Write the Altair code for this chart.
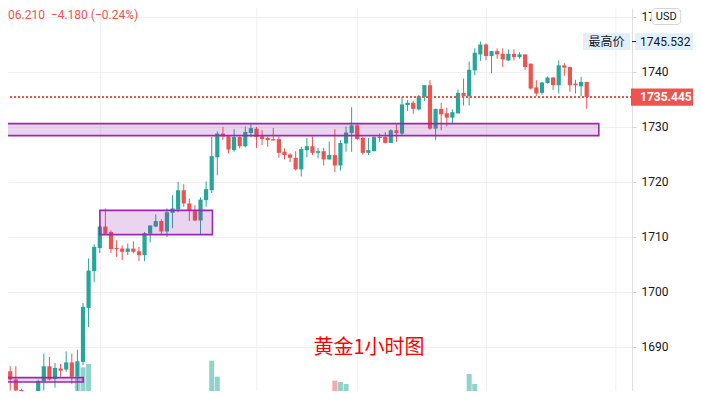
import altair as alt
import pandas as pd
import numpy as np

# ---- candle data (1h gold), index 0..104 ----
opens = [1683.4,1685.6,1684.1,1682.2,1679.8,1680.6,1679.2,1683.8,1686.5,1684.2,
         1686.1,1685.9,1687.2,1684.6,1687.3,1697.1,1703.8,1708.0,1711.9,1710.9,
         1708.0,1707.9,1707.3,1707.9,1707.4,1706.7,1710.6,1711.9,1712.9,1711.0,
         1714.4,1715.0,1718.5,1716.1,1714.7,1713.0,1716.7,1718.5,1724.5,1728.8,
         1728.3,1725.8,1728.2,1726.5,1728.9,1729.7,1728.3,1728.0,1727.8,1727.8,
         1725.5,1725.0,1724.4,1722.3,1725.8,1726.5,1725.3,1725.6,1724.1,1724.9,
         1723.0,1727.0,1728.9,1730.3,1728.0,1725.3,1725.6,1728.0,1728.2,1727.1,
         1729.4,1728.8,1734.0,1734.4,1733.2,1735.5,1737.6,1729.7,1733.3,1732.5,
         1731.7,1732.5,1736.2,1735.6,1740.3,1743.2,1745.0,1742.9,1743.8,1743.3,
         1742.1,1743.3,1742.7,1743.2,1741.5,1737.2,1736.2,1738.0,1739.0,1737.6,
         1741.2,1740.9,1737.9,1737.4,1738.2]
highs = [1686.0,1686.5,1686.5,1682.4,1680.9,1681.0,1684.1,1688.8,1688.2,1687.1,
         1686.9,1689.2,1688.8,1689.5,1698.0,1706.1,1708.7,1712.1,1715.2,1711.2,
         1709.4,1708.5,1708.8,1709.2,1708.2,1710.9,1712.1,1714.1,1713.2,1715.2,
         1717.6,1720.0,1719.6,1717.0,1715.8,1717.2,1720.1,1728.2,1729.2,1730.0,
         1728.5,1729.6,1728.3,1730.1,1730.6,1730.0,1729.4,1728.3,1729.8,1728.3,
         1726.1,1725.2,1725.6,1726.4,1728.0,1728.3,1726.2,1726.2,1727.4,1729.6,
         1727.6,1730.1,1733.6,1730.5,1728.3,1728.0,1728.3,1728.8,1729.1,1729.6,
         1730.5,1735.5,1734.9,1734.7,1735.8,1737.6,1738.5,1733.3,1734.4,1733.5,
         1733.2,1736.8,1738.8,1741.9,1744.3,1745.532,1745.2,1743.8,1744.3,1744.3,
         1744.1,1744.1,1743.6,1743.2,1741.6,1738.5,1738.2,1739.2,1739.1,1742.1,
         1741.6,1741.0,1738.6,1739.1,1738.2]
lows = [1683.0,1682.1,1681.6,1679.3,1679.3,1678.6,1678.8,1682.1,1683.9,1682.6,
        1684.6,1685.5,1683.3,1682.1,1686.7,1693.6,1701.8,1707.1,1710.4,1707.1,
        1706.4,1705.8,1706.7,1707.0,1705.6,1705.6,1709.0,1711.8,1710.5,1710.0,
        1711.6,1714.5,1715.5,1712.9,1712.9,1710.4,1715.5,1718.0,1721.2,1727.6,
        1725.2,1725.5,1726.1,1726.3,1728.1,1726.2,1726.7,1726.4,1727.6,1724.4,
        1724.1,1723.6,1722.1,1721.0,1724.5,1724.9,1724.3,1723.0,1724.1,1721.8,
        1722.1,1725.5,1725.5,1727.6,1725.0,1724.9,1725.6,1727.3,1727.0,1727.1,
        1727.3,1728.5,1732.9,1732.4,1733.0,1734.7,1729.5,1727.6,1729.4,1730.1,
        1730.6,1732.4,1733.9,1733.9,1739.4,1742.0,1742.1,1739.8,1742.4,1740.9,
        1742.0,1742.1,1742.4,1740.4,1736.8,1735.6,1735.9,1737.9,1736.7,1736.1,
        1739.3,1736.4,1736.1,1735.6,1733.3]
closes = [1685.5,1684.1,1682.1,1679.8,1680.8,1679.2,1683.8,1686.5,1684.1,1686.2,
          1685.7,1687.2,1684.6,1687.4,1697.3,1703.9,1708.2,1711.9,1710.6,1707.8,
          1707.8,1707.3,1707.9,1707.3,1706.7,1710.7,1712.1,1712.9,1711.0,1714.5,
          1715.2,1718.5,1716.1,1714.9,1713.0,1716.8,1718.7,1724.7,1728.8,1728.3,
          1725.9,1728.2,1726.5,1729.1,1729.8,1728.2,1727.8,1727.6,1727.55,1725.3,
          1724.9,1724.4,1722.3,1726.0,1726.5,1725.3,1725.6,1724.1,1724.9,1723.0,
          1727.1,1729.0,1730.3,1727.8,1725.3,1725.8,1728.2,1728.2,1727.1,1729.4,
          1728.9,1734.1,1734.4,1733.3,1735.6,1737.6,1729.7,1733.3,1732.3,1731.7,
          1732.7,1736.2,1735.6,1740.4,1743.5,1745.0,1742.9,1743.8,1743.2,1742.3,
          1743.3,1742.7,1743.2,1740.9,1737.0,1736.1,1738.1,1739.0,1737.6,1741.2,
          1740.8,1737.6,1737.6,1738.2,1735.445]

# volume bars tall enough to be seen
vol_idx = [13, 14, 15, 16, 37, 38, 59, 60, 61, 83, 84]
vol_val = [4330, 5270, 5600, 2500, 5930, 4330, 3930, 3800, 3600, 4600, 3600]

# rectangles (candle-index span, price span)
box_x0 = [-2.0, 17.02, -2.0]
box_x1 = [14.03, 37.13, 106.16]
box_top = [1684.44, 1714.84, 1730.62]
box_bot = [1683.64, 1710.44, 1728.44]

time_grid = [17.09, 45.04, 63.08, 86.11, 109.21]
price_ticks = [1690, 1700, 1710, 1720, 1730, 1740, 1750]
last_price = 1735.445
high_price = 1745.532
header_text = "06.210\u00a0 \u22124.180 (\u22120.24%)"
title_text = "黄金1小时图"
title_pos = (55.17, 1689.82)

UP, DOWN = "#26a69a", "#ef5350"

df = pd.DataFrame({"i": list(range(len(opens))), "o": opens, "h": highs,
                   "l": lows, "c": closes})
df["dir"] = np.where(df["c"] >= df["o"], "up", "down")
vdf = pd.DataFrame({"i": vol_idx, "v": vol_val})
vdf["dir"] = [df.loc[k, "dir"] for k in vol_idx]
bdf = pd.DataFrame({"x0": box_x0, "x1": box_x1, "t": box_top, "b": box_bot})
gdf = pd.DataFrame({"g": time_grid})

xs = alt.Scale(domain=[1.494, 111.2], nice=False, zero=False)
ys = alt.Scale(domain=[1682.0, 1751.636], nice=False, zero=False)
cs = alt.Scale(domain=["up", "down"], range=[UP, DOWN])
yax = alt.Axis(orient="right", values=price_ticks, tickSize=4, tickColor="#d6d6d6",
               domainColor="#dedede", labelColor="#131722", labelFontSize=12,
               labelFont="Roboto", labelPadding=5, gridColor="#f0f0f0", grid=True,
               title=None, labelFlush=False, format="d")

def X(f):
    return alt.X(f, scale=xs, axis=None)

def Y(f):
    return alt.Y(f, scale=ys, axis=yax)

col = alt.Color("dir:N", scale=cs, legend=None)

vgrid = alt.Chart(gdf).mark_rule(color="#f0f0f0", strokeWidth=1).encode(x=X("g:Q"))

vol = alt.Chart(vdf).mark_bar(size=5, opacity=0.5, clip=True).encode(
    x=X("i:Q"),
    y=alt.Y("v:Q", scale=alt.Scale(domain=[0, 10000], range=[412, 312], nice=False), axis=None),
    color=col)

wick = alt.Chart(df).mark_rule(strokeWidth=1, clip=True).encode(
    x=X("i:Q"), y=Y("l:Q"), y2="h:Q", color=col)
body = alt.Chart(df).mark_bar(size=4.2, clip=True).encode(
    x=X("i:Q"), y=Y("o:Q"), y2="c:Q", color=col)

boxes = alt.Chart(bdf).mark_rect(fill="#9c27b0", fillOpacity=0.2, stroke="#9c27b0",
                                 strokeWidth=1.6, clip=True).encode(
    x=X("x0:Q"), x2="x1:Q", y=Y("t:Q"), y2="b:Q")

pline = alt.Chart(df).mark_rule(color=DOWN, strokeDash=[1.5, 2.5], strokeWidth=1).encode(
    y=alt.datum(last_price, scale=ys, axis=yax))

one = pd.DataFrame({"k": [0]})

price_box = alt.Chart(one).mark_rect(color=DOWN).encode(
    x=alt.value(623), x2=alt.value(690),
    y=alt.datum(last_price + 1.57), y2=alt.datum(last_price - 1.57))
price_txt = alt.Chart(one).mark_text(align="left", baseline="middle", color="white",
                                     fontSize=12, font="Roboto", fontWeight="bold").encode(
    x=alt.value(632), y=alt.datum(last_price), text=alt.value(f"{last_price:.3f}"))

hi_lab_box = alt.Chart(one).mark_rect(color="#e3effd").encode(
    x=alt.value(575), x2=alt.value(622),
    y=alt.datum(high_price + 1.52), y2=alt.datum(high_price - 1.52))
hi_val_box = alt.Chart(one).mark_rect(color="#e3effd").encode(
    x=alt.value(627), x2=alt.value(690),
    y=alt.datum(high_price + 1.52), y2=alt.datum(high_price - 1.52))
hi_tick = alt.Chart(one).mark_rule(color="#131722", strokeWidth=1).encode(
    x=alt.value(624), x2=alt.value(628), y=alt.datum(high_price))
hi_lab = alt.Chart(one).mark_text(align="center", baseline="middle", color="#131722",
                                  fontSize=12, font="Noto Sans CJK SC").encode(
    x=alt.value(598.5), y=alt.datum(high_price), text=alt.value("最高价"))
hi_val = alt.Chart(one).mark_text(align="left", baseline="middle", color="#131722",
                                  fontSize=12, font="Roboto").encode(
    x=alt.value(632), y=alt.datum(high_price), text=alt.value(f"{high_price:.3f}"))

usd_box = alt.Chart(one).mark_rect(fill="white", stroke="#d1d4dc", strokeWidth=1,
                                   cornerRadius=4).encode(
    x=alt.value(643.7), x2=alt.value(672.7), y=alt.value(0.5), y2=alt.value(16.5))
usd_txt = alt.Chart(one).mark_text(align="center", baseline="middle", color="#131722",
                                   fontSize=11, font="Roboto").encode(
    x=alt.value(658.2), y=alt.value(8.5), text=alt.value("USD"))

head = alt.Chart(one).mark_text(align="left", baseline="middle", color=DOWN,
                                fontSize=12, font="Roboto").encode(
    x=alt.value(0), y=alt.value(7), text=alt.value(header_text))

title = alt.Chart(one).mark_text(align="left", baseline="middle", color="#ff0000",
                                 fontSize=20, font="Noto Sans CJK SC").encode(
    x=alt.datum(title_pos[0]), y=alt.datum(title_pos[1]), text=alt.value(title_text))

price_layer = alt.layer(vgrid, wick, body, boxes, pline, title, head,
                        hi_lab_box, hi_val_box, hi_tick, hi_lab, hi_val,
                        price_box, price_txt, usd_box, usd_txt)

chart = alt.layer(vol, price_layer).resolve_scale(y="independent").properties(
    width=624, height=383,
    padding={"left": 0, "top": 0, "right": 61, "bottom": 0},
    autosize=alt.AutoSizeParams(type="none"),
).configure_view(stroke=None)

chart.save("out.html", embed_options={"renderer": "svg", "actions": False})
